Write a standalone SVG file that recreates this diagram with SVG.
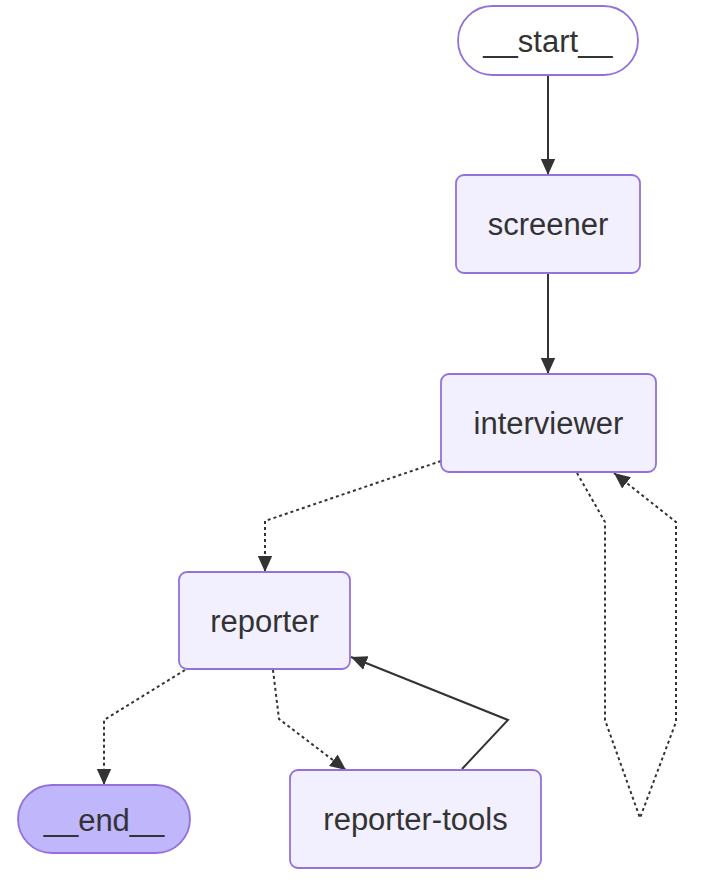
<svg xmlns="http://www.w3.org/2000/svg" width="722" height="880" viewBox="0 0 722 880">
<defs>
<style>
.node rect{fill:#f2f0ff;stroke:#9370db;stroke-width:1.8}
.node text{font-family:"Liberation Sans",Arial,sans-serif;font-size:31px;fill:#333;text-anchor:middle}
.edge{fill:none;stroke:#333;stroke-width:2}
.dot{stroke-dasharray:3 3}
</style>
<marker id="arr" viewBox="0 0 10 10" refX="10" refY="5" markerWidth="16" markerHeight="16" markerUnits="userSpaceOnUse" orient="auto">
<path d="M0,0.5 L10,5 L0,9.5 z" fill="#333"/>
</marker>
</defs>
<rect width="722" height="880" fill="#fff"/>
<g id="connectors">
<path class="edge" d="M548,76 L548,175" marker-end="url(#arr)"/>
<path class="edge" d="M548,274 L548,374" marker-end="url(#arr)"/>
<path class="edge dot" d="M441,461 L265,521 L265,572" marker-end="url(#arr)"/>
<path class="edge dot" d="M577,473 L605,522 L605,720 L640,818 L676,722 L676,522 L614,473" marker-end="url(#arr)"/>
<path class="edge dot" d="M185,670 L104,720 L104,785" marker-end="url(#arr)"/>
<path class="edge dot" d="M273,670 L279,719 L346,770" marker-end="url(#arr)"/>
<path class="edge" d="M462,769 L508,720 L351,657" marker-end="url(#arr)"/>
</g>
<g id="start" class="node"><rect x="458" y="6" width="180" height="69" rx="34.5" style="fill:#fff"/><text x="548" y="41" dy="0.35em">__start__</text></g>
<g id="screener" class="node"><rect x="456" y="175" width="184" height="98" rx="8"/><text x="548" y="224" dy="0.35em">screener</text></g>
<g id="interviewer" class="node"><rect x="441" y="374" width="215" height="98" rx="8"/><text x="548.5" y="423" dy="0.35em">interviewer</text></g>
<g id="reporter" class="node"><rect x="179" y="572" width="171" height="97" rx="8"/><text x="264.5" y="621" dy="0.35em">reporter</text></g>
<g id="end" class="node"><rect x="18" y="785" width="172" height="68" rx="34" style="fill:#bfb6fc"/><text x="104" y="820" dy="0.35em">__end__</text></g>
<g id="reporter-tools" class="node"><rect x="290" y="770" width="251" height="98" rx="8"/><text x="415.5" y="819" dy="0.35em">reporter-tools</text></g>
</svg>
